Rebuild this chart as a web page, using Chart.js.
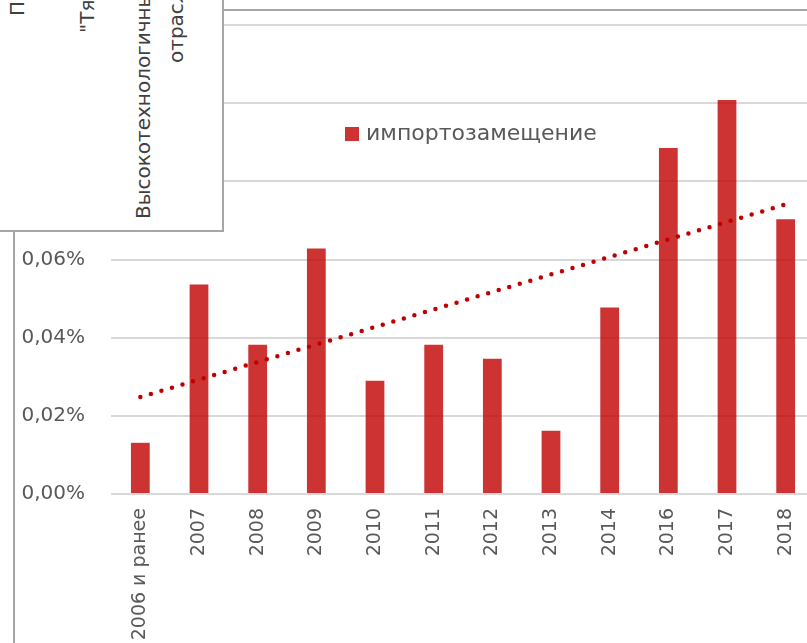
<!DOCTYPE html>
<html>
<head>
<meta charset="utf-8">
<script src="https://cdn.jsdelivr.net/npm/chart.js@4"></script>
<style>
  body { margin: 0; overflow: hidden; background: #fff; width: 807px; height: 643px; position: relative; }
  #wrap { position: absolute; left: 0; top: 0; width: 830px; height: 643px; }
  .frameTop { position: absolute; left: 223px; top: 9px; width: 600px; height: 2px; background: #a6a6a6; }
  .frameLeft { position: absolute; left: 13px; top: 231px; width: 2px; height: 420px; background: #a6a6a6; }
  #otherBox { position: absolute; left: 0; top: 0; width: 222px; height: 230px; background: #fff;
    border-right: 2px solid #a6a6a6; border-bottom: 2px solid #a6a6a6; overflow: hidden;
    font-family: "DejaVu Sans", sans-serif; font-size: 20px; color: #404040; }
  #otherBox span { position: absolute; white-space: nowrap; line-height: 20px; transform-origin: 0 0; transform: rotate(-90deg); }
</style>
</head>
<body>
<div id="wrap"><canvas id="myChart" width="830" height="643"></canvas></div>
<div class="frameTop"></div>
<div class="frameLeft"></div>
<div id="otherBox">
  <span style="left:7px; top:16px">Прочие</span>
  <span style="left:77px; top:33px">"Тяжелые</span>
  <span style="left:133px; top:219px">Высокотехнологичные</span>
  <span style="left:166px; top:63px">отрасли</span>
</div>
<script>
// данные
var years = ['2006 и ранее', '2007', '2008', '2009', '2010', '2011', '2012', '2013', '2014', '2016', '2017', '2018'];
var importSub = [0.0131, 0.0536, 0.0382, 0.0628, 0.0290, 0.0382, 0.0346, 0.0162, 0.0477, 0.0885, 0.1008, 0.0703];
// линейный тренд (концы)
var trend = [0.0248, null, null, null, null, null, null, null, null, null, null, 0.0741];
var yTicks = [0, 0.02, 0.04, 0.06, 0.08, 0.10, 0.12];

var grey = '#595959';

// легенда внутри области графика, как в Excel
var legendInside = {
    id: 'legendInside',
    afterDraw: function(chart) {
        var c = chart.ctx;
        var ds = chart.data.datasets[1];
        c.save();
        c.fillStyle = ds.backgroundColor;
        c.fillRect(345, 127, 14, 14);
        c.fillStyle = grey;
        c.font = '22px "DejaVu Sans"';
        c.textBaseline = 'middle';
        c.fillText(ds.label, 366, 134);
        c.restore();
    }
};

var ctx = document.getElementById('myChart').getContext('2d');
var myChart = new Chart(ctx, {
    type: 'bar',
    data: {
        labels: years,
        datasets: [{
            type: 'line',
            label: 'тренд',
            data: trend,
            spanGaps: true,
            borderColor: '#c00000',
            borderWidth: 4.5,
            borderDash: [0, 11],
            borderCapStyle: 'round',
            pointRadius: 0,
            fill: false,
            order: 0
        }, {
            label: 'импортозамещение',
            data: importSub,
            backgroundColor: 'rgba(192, 0, 0, 0.8)',
            borderWidth: 0,
            barPercentage: 0.32,
            categoryPercentage: 1,
            order: 1
        }]
    },
    options: {
        responsive: false,
        animation: false,
        layout: { padding: { top: 25, right: 15, left: 0, bottom: 0 } },
        plugins: {
            legend: { display: false },
            tooltip: { enabled: false }
        },
        scales: {
            x: {
                grid: { display: false, drawTicks: false },
                border: { display: false },
                ticks: {
                    color: grey,
                    font: { family: 'DejaVu Sans', size: 19 },
                    minRotation: 90,
                    maxRotation: 90,
                    padding: 14,
                    autoSkip: false
                },
                afterFit: function(s) { s.height = 149; }
            },
            y: {
                min: 0,
                max: 0.12,
                afterBuildTicks: function(s) { s.ticks = yTicks.map(function(v) { return { value: v }; }); },
                grid: { color: '#d9d9d9', lineWidth: 2, drawTicks: false },
                border: { display: false },
                ticks: {
                    color: grey,
                    font: { family: 'DejaVu Sans', size: 20 },
                    padding: 26,
                    callback: function(v) { return v.toFixed(2).replace('.', ',') + '%'; }
                },
                afterFit: function(s) {
                    s.width = 111;
                    s.paddingTop = 0;
                    s.paddingBottom = 0;
                }
            }
        }
    },
    plugins: [legendInside]
});
</script>
</body>
</html>
